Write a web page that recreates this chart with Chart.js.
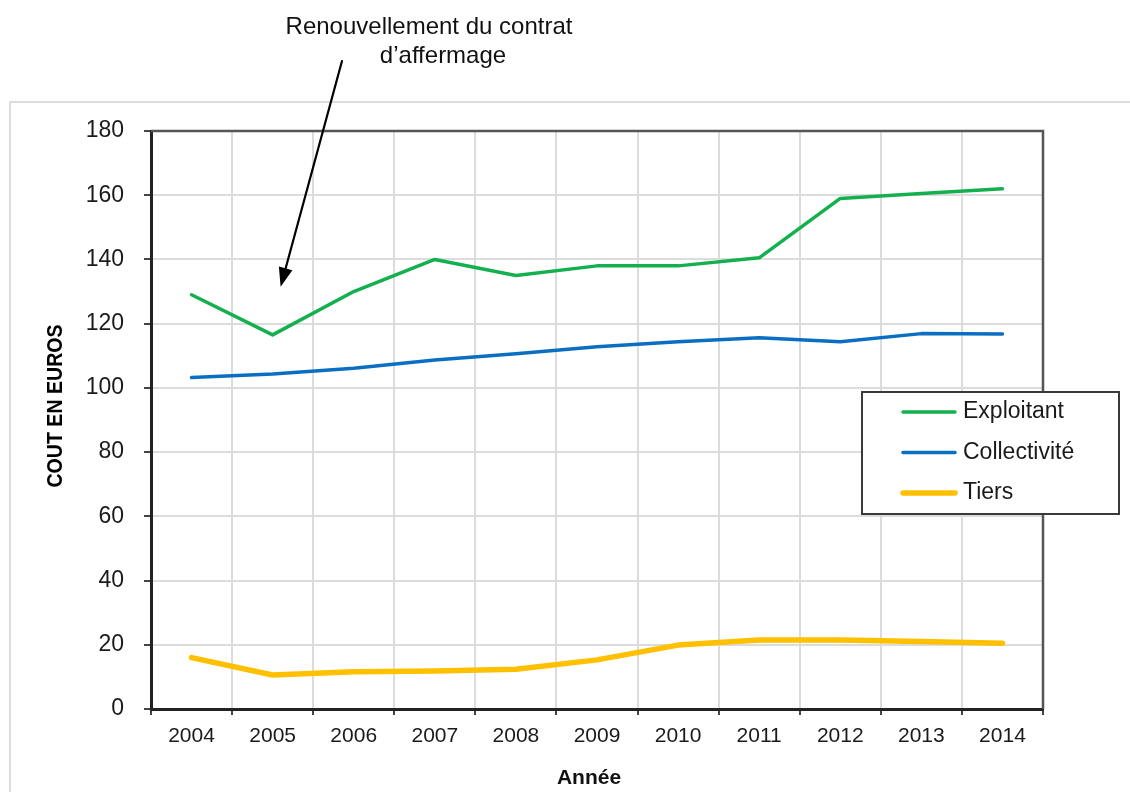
<!DOCTYPE html>
<html lang="fr">
<head>
<meta charset="utf-8">
<title>Coût en euros</title>
<script src="https://cdn.jsdelivr.net/npm/chart.js@4.4.1/dist/chart.umd.min.js"></script>
<style>
  html, body { margin: 0; padding: 0; background: #fff; }
  #wrap { position: relative; width: 1130px; height: 792px; }
</style>
</head>
<body>
<div id="wrap"><canvas id="chart" width="1130" height="792"></canvas></div>
<script>
const annees = ['2004', '2005', '2006', '2007', '2008', '2009', '2010', '2011', '2012', '2013', '2014'];
const exploitant = [129, 116.5, 130, 140, 135, 138, 138, 140.5, 159, 160.5, 162];
const collectivite = [103.2, 104.3, 106.1, 108.7, 110.6, 112.8, 114.4, 115.6, 114.4, 116.9, 116.8];
const tiers = [16, 10.6, 11.6, 11.8, 12.4, 15.3, 19.9, 21.5, 21.5, 21, 20.5];

const FONT = "'Liberation Sans', Arial, sans-serif";

// cadre, légende, flèche et titres des axes
const decor = {
    id: 'decor',
    beforeDraw(chart) {
        const ctx = chart.ctx;
        ctx.save();
        ctx.strokeStyle = '#dcdcdc';
        ctx.lineWidth = 2;
        ctx.beginPath();
        ctx.moveTo(10, 792);
        ctx.lineTo(10, 102);
        ctx.lineTo(1130, 102);
        ctx.stroke();
        ctx.restore();
    },
    afterDraw(chart) {
        const ctx = chart.ctx;
        const area = chart.chartArea;
        const x = chart.scales.x;
        const y = chart.scales.y;
        ctx.save();

        // bords haut et droit du graphique
        ctx.strokeStyle = '#555';
        ctx.lineWidth = 2.5;
        ctx.beginPath();
        ctx.moveTo(area.left, area.top);
        ctx.lineTo(area.right, area.top);
        ctx.lineTo(area.right, area.bottom);
        ctx.stroke();

        // légende
        ctx.fillStyle = '#fff';
        ctx.fillRect(862, 392, 257, 122);
        ctx.strokeStyle = '#3a3a3a';
        ctx.lineWidth = 2;
        ctx.strokeRect(862, 392, 257, 122);
        ctx.font = '23px ' + FONT;
        ctx.textBaseline = 'middle';
        ctx.textAlign = 'left';
        chart.data.datasets.forEach((ds, i) => {
            const ly = 412 + i * 40.5;
            ctx.strokeStyle = ds.borderColor;
            ctx.lineWidth = ds.borderWidth;
            ctx.lineCap = 'round';
            ctx.beginPath();
            ctx.moveTo(903, ly);
            ctx.lineTo(955, ly);
            ctx.stroke();
            ctx.fillStyle = '#1a1a1a';
            ctx.fillText(ds.label, 963, ly);
        });

        // titre de l'axe vertical (police étroite)
        ctx.save();
        ctx.translate(56, 406);
        ctx.rotate(-Math.PI / 2);
        ctx.scale(0.89, 1);
        ctx.font = 'bold 22px ' + FONT;
        ctx.textAlign = 'center';
        ctx.fillStyle = '#000';
        ctx.fillText('COUT EN EUROS', 0, 0);
        ctx.restore();

        // titre de l'axe horizontal
        ctx.font = 'bold 21px ' + FONT;
        ctx.textAlign = 'center';
        ctx.fillStyle = '#111';
        ctx.fillText('Année', 589, 778);

        // annotation
        ctx.font = '24px ' + FONT;
        ctx.textAlign = 'center';
        ctx.fillStyle = '#111';
        ctx.fillText('Renouvellement du contrat', 429, 27);
        ctx.fillText('d\u2019affermage', 443, 56);

        const x0 = 342, y0 = 61;
        const x1 = x.getPixelForValue(1) + 8;
        const y1 = y.getPixelForValue(131.5);
        const ang = Math.atan2(y1 - y0, x1 - x0);
        const c = Math.cos(ang), s = Math.sin(ang);
        ctx.strokeStyle = '#000';
        ctx.lineWidth = 2.2;
        ctx.beginPath();
        ctx.moveTo(x0, y0);
        ctx.lineTo(x1 - 14 * c, y1 - 14 * s);
        ctx.stroke();
        ctx.fillStyle = '#000';
        ctx.beginPath();
        ctx.moveTo(x1, y1);
        ctx.lineTo(x1 - 19 * c + 7 * s, y1 - 19 * s - 7 * c);
        ctx.lineTo(x1 - 19 * c - 7 * s, y1 - 19 * s + 7 * c);
        ctx.closePath();
        ctx.fill();

        ctx.restore();
    }
};

new Chart(document.getElementById('chart'), {
    type: 'line',
    data: {
        labels: annees,
        datasets: [
            { label: 'Exploitant', data: exploitant, borderColor: '#14b04f', borderWidth: 3.5 },
            { label: 'Collectivité', data: collectivite, borderColor: '#0a6fc2', borderWidth: 3.5 },
            { label: 'Tiers', data: tiers, borderColor: '#ffc000', borderWidth: 5.5 }
        ]
    },
    options: {
        responsive: false,
        animation: false,
        devicePixelRatio: 1,
        layout: { padding: { top: 131, right: 87, left: 0, bottom: 0 } },
        elements: {
            point: { radius: 0, hoverRadius: 0 },
            line: { tension: 0, borderCapStyle: 'round', borderJoinStyle: 'round' }
        },
        plugins: {
            legend: { display: false },
            tooltip: { enabled: false }
        },
        scales: {
            x: {
                offset: true,
                afterFit: s => { s.height = 83; },
                grid: {
                    offset: true,
                    color: '#dcdcdc',
                    lineWidth: 2,
                    tickLength: 6,
                    tickColor: '#444'
                },
                border: { color: '#222', width: 3 },
                ticks: {
                    padding: 9,
                    color: '#1a1a1a',
                    font: { family: FONT, size: 21 }
                }
            },
            y: {
                min: 0,
                max: 180,
                afterFit: s => { s.width = 151; },
                grid: {
                    color: '#dcdcdc',
                    lineWidth: 2,
                    tickLength: 7,
                    tickColor: '#444'
                },
                border: { color: '#222', width: 3 },
                ticks: {
                    stepSize: 20,
                    padding: 20,
                    color: '#1a1a1a',
                    font: { family: FONT, size: 23 }
                }
            }
        }
    },
    plugins: [decor]
});
</script>
</body>
</html>
